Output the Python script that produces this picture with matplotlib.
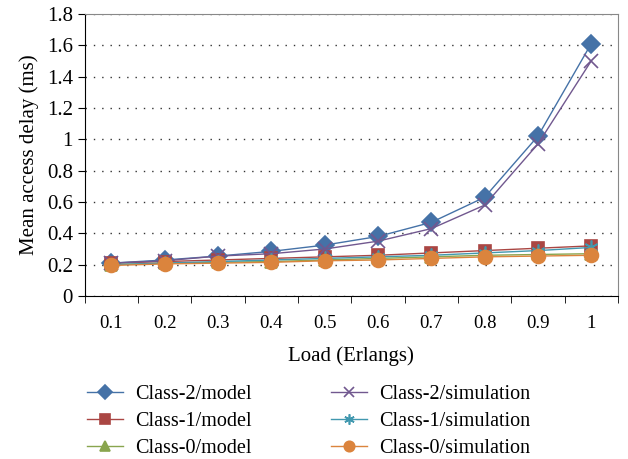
import numpy as np
import matplotlib
matplotlib.use('Agg')
import matplotlib.pyplot as plt

plt.rcParams['font.family'] = ['Liberation Serif', 'DejaVu Serif']

loads = ['0.1', '0.2', '0.3', '0.4', '0.5', '0.6', '0.7', '0.8', '0.9', '1']

class2_model = [0.21, 0.23, 0.255, 0.285, 0.325, 0.38, 0.47, 0.63, 1.02, 1.61]
class1_model = [0.21, 0.22, 0.23, 0.24, 0.25, 0.26, 0.275, 0.29, 0.305, 0.32]
class0_model = [0.20, 0.21, 0.215, 0.22, 0.23, 0.24, 0.25, 0.26, 0.265, 0.27]
class2_sim = [0.21, 0.225, 0.255, 0.27, 0.30, 0.35, 0.43, 0.58, 0.97, 1.50]
class1_sim = [0.20, 0.21, 0.22, 0.23, 0.24, 0.25, 0.26, 0.275, 0.29, 0.31]
class0_sim = [0.195, 0.205, 0.21, 0.215, 0.225, 0.23, 0.24, 0.25, 0.255, 0.26]

x = np.arange(len(loads))

fig = plt.figure(figsize=(6.28, 4.59), dpi=100)
ax = fig.add_axes([0.135, 0.355, 0.849, 0.615])

asterisk = (6, 2, 0)
series = [
    (class2_model, 'Class-2/model', '#4572A7', 'D', 9),
    (class1_model, 'Class-1/model', '#AA4643', 's', 9),
    (class0_model, 'Class-0/model', '#89A54E', '^', 9),
    (class2_sim, 'Class-2/simulation', '#71588F', 'x', 10),
    (class1_sim, 'Class-1/simulation', '#4198AF', asterisk, 10),
    (class0_sim, 'Class-0/simulation', '#DB843D', 'o', 10),
]
for vals, lab, col, mk, ms in series:
    ax.plot(x, vals, color=col, marker=mk, markersize=ms, linewidth=1.0,
            markeredgewidth=1.2, label=lab)

ax.set_xlim(-0.5, len(loads) - 0.5)
ax.set_ylim(0, 1.8)
ax.set_yticks(np.arange(0, 1.81, 0.2))
ax.set_yticklabels(['0', '0.2', '0.4', '0.6', '0.8', '1', '1.2', '1.4', '1.6', '1.8'])
ax.set_xticks(x)
ax.set_xticklabels(loads)
ax.set_xticks(np.arange(-0.5, len(loads), 1), minor=True)
ax.tick_params(axis='x', which='major', length=0, pad=14, labelsize=13.5)
ax.tick_params(axis='x', which='minor', length=5, direction='out')
ax.tick_params(axis='y', length=5, direction='out', labelsize=15)

ax.yaxis.grid(True, linestyle=(0, (1, 5)), color='#333333', linewidth=1)
ax.set_axisbelow(True)
for s in ['top', 'right']:
    ax.spines[s].set_color('#888888')

ax.set_xlabel('Load (Erlangs)', fontsize=15, labelpad=10)
ax.set_ylabel('Mean access delay (ms)', fontsize=15, labelpad=6)

fig.legend(*ax.get_legend_handles_labels(), loc='upper left',
           bbox_to_anchor=(77 / 628, 1 - 375 / 459), ncol=2, frameon=False,
           fontsize=14.5, handlelength=1.8, handletextpad=0.6,
           columnspacing=3.9, labelspacing=0.38, borderpad=0, markerscale=0.75)

fig.savefig('out.png', dpi=100)
